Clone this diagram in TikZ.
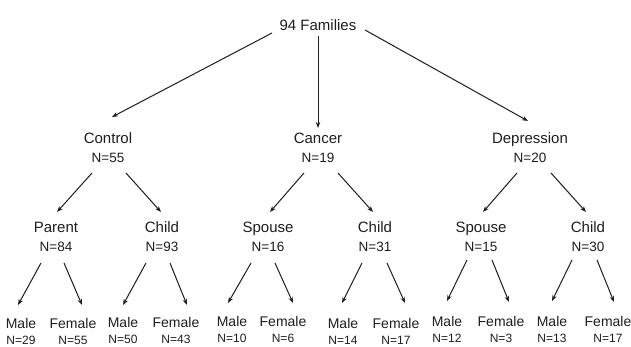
\documentclass[tikz,border=0pt]{standalone}
\usepackage{fontspec}
\setmainfont{Liberation Sans}
\usetikzlibrary{arrows.meta}
\definecolor{ink}{HTML}{1E1E1E}
\newcommand{\Nbig}{\fontsize{13.5}{19}\selectfont}
\newcommand{\Nsmall}{\fontsize{12}{15.5}\selectfont}
\begin{document}
\begin{tikzpicture}[x=1pt,y=-1pt,
  lbl/.style={align=center,inner sep=0pt,text=ink,font=\fontsize{15}{19}\selectfont},
  leaf/.style={align=center,inner sep=0pt,text=ink,font=\fontsize{14}{15.5}\selectfont},
  arr/.style={draw=ink,line width=1pt,-{Stealth[length=6pt,width=4.5pt]}}]
\useasboundingbox (0,0) rectangle (631,347);
\fill[white] (0,0) rectangle (631,347);
% nodes
\node[lbl] (root) at (318,25) {94 Families};
\node[lbl] (ctrl) at (108,148) {Control\\\Nbig N=55};
\node[lbl] (canc) at (318,148) {Cancer\\\Nbig N=19};
\node[lbl] (dep)  at (530,148) {Depression\\\Nbig N=20};
\node[lbl] (par) at (56,236.5)  {Parent\\\Nbig N=84};
\node[lbl] (ch1) at (162,236.5) {Child\\\Nbig N=93};
\node[lbl] (sp1) at (268,236.5) {Spouse\\\Nbig N=16};
\node[lbl] (ch2) at (375,236.5) {Child\\\Nbig N=31};
\node[lbl] (sp2) at (481,236.5) {Spouse\\\Nbig N=15};
\node[lbl] (ch3) at (588,236.5) {Child\\\Nbig N=30};
\node[leaf] (m1) at (21,331.5)  {Male\\\Nsmall N=29};
\node[leaf] (f1) at (73,331.5)  {Female\\\Nsmall N=55};
\node[leaf] (m2) at (123,330.5) {Male\\\Nsmall N=50};
\node[leaf] (f2) at (176,330.5) {Female\\\Nsmall N=43};
\node[leaf] (m3) at (232,329.5) {Male\\\Nsmall N=10};
\node[leaf] (f3) at (283,329.5) {Female\\\Nsmall N=6};
\node[leaf] (m4) at (343,331.5) {Male\\\Nsmall N=14};
\node[leaf] (f4) at (396,331.5) {Female\\\Nsmall N=17};
\node[leaf] (m5) at (447,329.5) {Male\\\Nsmall N=12};
\node[leaf] (f5) at (501,329.5) {Female\\\Nsmall N=3};
\node[leaf] (m6) at (552,329.5) {Male\\\Nsmall N=13};
\node[leaf] (f6) at (608,329.5) {Female\\\Nsmall N=17};
% top arrows
\draw[arr] ([shift={(-46,8)}]root.center) -- ([shift={(4,-31)}]ctrl.center);
\draw[arr] ([shift={(0,11)}]root.center) -- ([shift={(0,-20)}]canc.center);
\draw[arr] ([shift={(47,5)}]root.center) -- ([shift={(-2,-27)}]dep.center);
% level 1 -> 2
\draw[arr] ([shift={(-16,25)}]ctrl.center) -- ([shift={(1,-24.5)}]par.center);
\draw[arr] ([shift={(18,25)}]ctrl.center) -- ([shift={(-1,-24.5)}]ch1.center);
\draw[arr] ([shift={(-14,25)}]canc.center) -- ([shift={(2,-24.5)}]sp1.center);
\draw[arr] ([shift={(20,25)}]canc.center) -- ([shift={(-2,-24.5)}]ch2.center);
\draw[arr] ([shift={(-13,25)}]dep.center) -- ([shift={(2,-24.5)}]sp2.center);
\draw[arr] ([shift={(21,25)}]dep.center) -- ([shift={(-2,-24.5)}]ch3.center);
% level 2 -> 3
\draw[arr] ([shift={(-15,26.5)}]par.center) -- ([shift={(-3,-26.5)}]m1.center);
\draw[arr] ([shift={(8,26.5)}]par.center) -- ([shift={(9,-26.5)}]f1.center);
\draw[arr] ([shift={(-16,26.5)}]ch1.center) -- ([shift={(0,-25.5)}]m2.center);
\draw[arr] ([shift={(8,26.5)}]ch1.center) -- ([shift={(11,-25.5)}]f2.center);
\draw[arr] ([shift={(-17,26.5)}]sp1.center) -- ([shift={(-4,-26.5)}]m3.center);
\draw[arr] ([shift={(7,26.5)}]sp1.center) -- ([shift={(10,-26.5)}]f3.center);
\draw[arr] ([shift={(-13,26.5)}]ch2.center) -- ([shift={(-1,-28.5)}]m4.center);
\draw[arr] ([shift={(12,26.5)}]ch2.center) -- ([shift={(9,-28.5)}]f4.center);
\draw[arr] ([shift={(-14,23.5)}]sp2.center) -- ([shift={(0,-28.5)}]m5.center);
\draw[arr] ([shift={(11,23.5)}]sp2.center) -- ([shift={(8,-27.5)}]f5.center);
\draw[arr] ([shift={(-16,23.5)}]ch3.center) -- ([shift={(0,-28.5)}]m6.center);
\draw[arr] ([shift={(9,23.5)}]ch3.center) -- ([shift={(6,-27.5)}]f6.center);
\end{tikzpicture}
\end{document}
